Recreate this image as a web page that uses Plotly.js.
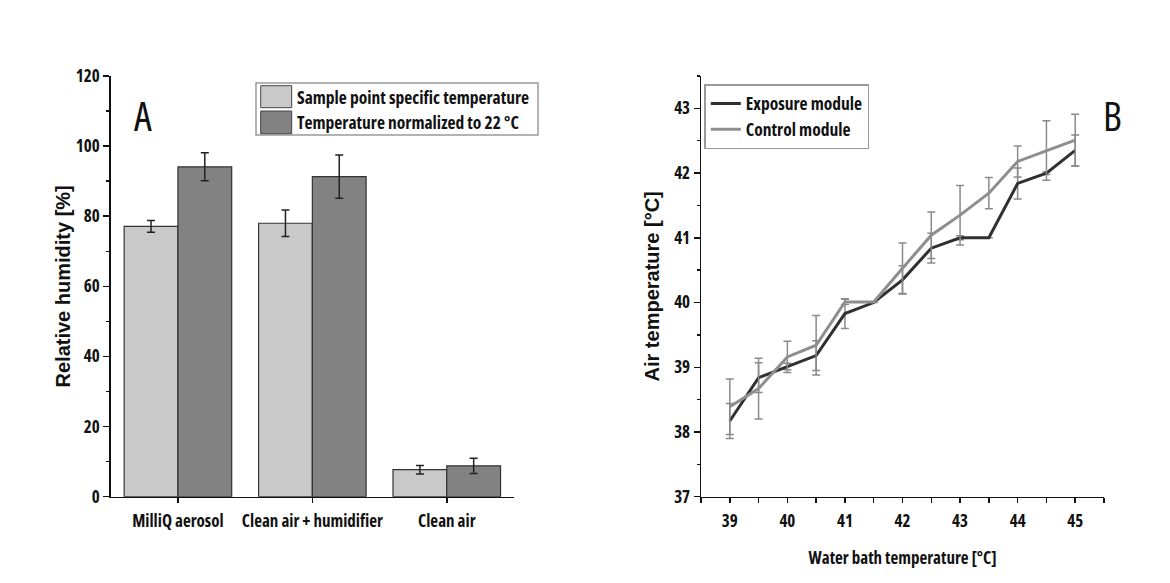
<!DOCTYPE html>
<html>
<head>
<meta charset="utf-8">
<script src="https://cdn.plot.ly/plotly-3.0.1.min.js"></script>
<style>
html,body{margin:0;padding:0;background:#fff;}
#chart{width:1170px;height:583px;}
text{font-stretch:condensed;}
text[style*="Liberation"]{font-stretch:normal !important;}
</style>
</head>
<body>
<div id="chart"></div>
<script>
// ---- Panel A data ----
const categories = ['MilliQ aerosol', 'Clean air + humidifier', 'Clean air'];
const seriesA = ['Sample point specific temperature', 'Temperature normalized to 22 °C'];
const sampleRH = [77.1, 78.0, 7.7];
const sampleErr = [1.7, 3.8, 1.2];
const normRH = [94.1, 91.3, 8.8];
const normErr = [4.0, 6.2, 2.2];
const yTicksA = [0, 20, 40, 60, 80, 100, 120];

// ---- Panel B data ----
const seriesB = ['Exposure module', 'Control module'];
const waterTemp = [39, 39.5, 40, 40.5, 41, 41.5, 42, 42.5, 43, 43.5, 44, 44.5, 45];
const exposureT = [38.17, 38.84, 39.01, 39.18, 39.83, 40.0, 40.35, 40.84, 41.0, 41.0, 41.84, 42.0, 42.35];
const exposureErr = [0.27, 0.23, 0.05, 0.23, 0.23, 0, 0.22, 0.23, 0.03, 0, 0.24, 0.02, 0.24];
const controlT = [38.39, 38.67, 39.16, 39.34, 40.01, 40.01, 40.53, 41.04, 41.35, 41.69, 42.18, 42.35, 42.51];
const controlErr = [0.43, 0.47, 0.24, 0.46, 0.04, 0, 0.39, 0.36, 0.46, 0.24, 0.24, 0.46, 0.40];
const xTicksB = [39, 40, 41, 42, 43, 44, 45];
const yTicksB = [37, 38, 39, 40, 41, 42, 43];

const W = 1170, H = 583;
const px = v => v / W;
const py = v => 1 - v / H;

const narrow = "'Open Sans', sans-serif";
const wide = "'Liberation Sans', Arial, sans-serif";
const tickFont = {family: narrow, size: 17, color: '#111', weight: 'bold'};
const legendFont = {family: narrow, size: 17.5, color: '#111', weight: 'bold'};
const titleFont = {family: wide, size: 20, color: '#111', weight: 'bold'};

const lightGray = '#c9c9c9', darkGray = '#828282';
const barLine = {color: '#333', width: 1.2};

const traces = [
  {type: 'bar', x: categories, y: sampleRH, name: seriesA[0], xaxis: 'x', yaxis: 'y',
   marker: {color: lightGray, line: barLine}, showlegend: false,
   error_y: {type: 'data', array: sampleErr, visible: true, color: '#222', thickness: 1.5, width: 4}},
  {type: 'bar', x: categories, y: normRH, name: seriesA[1], xaxis: 'x', yaxis: 'y',
   marker: {color: darkGray, line: barLine}, showlegend: false,
   error_y: {type: 'data', array: normErr, visible: true, color: '#222', thickness: 1.5, width: 4}},
  {type: 'scatter', mode: 'lines', x: waterTemp, y: exposureT, name: seriesB[0], xaxis: 'x2', yaxis: 'y2',
   line: {color: '#303030', width: 3},
   error_y: {type: 'data', array: exposureErr, visible: true, color: '#8a8a8a', thickness: 1.5, width: 4}},
  {type: 'scatter', mode: 'lines', x: waterTemp, y: controlT, name: seriesB[1], xaxis: 'x2', yaxis: 'y2',
   line: {color: '#8e8e8e', width: 3},
   error_y: {type: 'data', array: controlErr, visible: true, color: '#8a8a8a', thickness: 1.5, width: 4}}
];

const axisBase = {showline: true, linecolor: '#111', linewidth: 1.5, ticks: 'outside', tickcolor: '#111',
  tickwidth: 1.5, showgrid: false, zeroline: false, tickfont: tickFont};

const domYA = [py(496.7), py(76)];
const layout = {
  width: W, height: H,
  margin: {l: 0, r: 0, t: 0, b: 0},
  paper_bgcolor: '#fff', plot_bgcolor: 'rgba(0,0,0,0)',
  barmode: 'group', bargap: 0.2, bargroupgap: 0,
  xaxis: Object.assign({}, axisBase, {domain: [px(110.7), px(514)], type: 'category',
    categoryorder: 'array', categoryarray: categories, range: [-0.5, 2.5], ticklen: 5, tickangle: 0,
    ticklabelstandoff: 3, anchor: 'y'}),
  xaxis3: {domain: [px(110.7), px(514)], type: 'category', categoryorder: 'array', categoryarray: categories,
    range: [-0.5, 2.5], overlaying: 'x', anchor: 'y', tickson: 'boundaries', ticks: 'outside',
    ticklen: 5, tickwidth: 1.5, tickcolor: '#111', showticklabels: false, showline: false, showgrid: false},
  yaxis: Object.assign({}, axisBase, {domain: domYA, range: [0, 120], tickmode: 'array', tickvals: yTicksA,
    ticklen: 6, anchor: 'x',
    minor: {ticks: 'outside', ticklen: 3, dtick: 10, tickcolor: '#111', tickwidth: 1.5},
    title: {text: 'Relative humidity [%]', font: titleFont, standoff: 0}}),
  xaxis2: Object.assign({}, axisBase, {domain: [px(701), px(1104)], range: [38.5, 45.5], tickmode: 'array',
    tickvals: xTicksB, ticklen: 5, anchor: 'y2', ticklabelstandoff: 3,
    minor: {ticks: 'outside', ticklen: 5, dtick: 0.5, tick0: 39, tickcolor: '#111', tickwidth: 1.5},
    title: {text: 'Water bath temperature [°C]', font: tickFont, standoff: 21}}),
  yaxis2: Object.assign({}, axisBase, {domain: domYA, range: [37, 43.5], tickmode: 'array', tickvals: yTicksB,
    ticklen: 6, anchor: 'x2',
    minor: {ticks: 'outside', ticklen: 3, dtick: 0.5, tick0: 37, tickcolor: '#111', tickwidth: 1.5},
    title: {text: 'Air temperature [°C]', font: titleFont, standoff: 9}}),
  showlegend: true,
  legend: {x: px(704.3), y: py(84), xanchor: 'left', yanchor: 'top', bgcolor: '#fff',
    bordercolor: '#9a9a9a', borderwidth: 1.5, font: legendFont,
    itemwidth: 30, tracegroupgap: 0},
  shapes: [
    {type: 'rect', xref: 'paper', yref: 'paper', x0: px(256), x1: px(538), y0: py(135), y1: py(83),
     line: {color: '#9a9a9a', width: 1.5}, fillcolor: '#fff', layer: 'above'},
    {type: 'rect', xref: 'paper', yref: 'paper', x0: px(260.7), x1: px(291.7), y0: py(107.7), y1: py(85.7),
     line: {color: '#444', width: 1}, fillcolor: lightGray, layer: 'above'},
    {type: 'rect', xref: 'paper', yref: 'paper', x0: px(260.7), x1: px(291.7), y0: py(133.7), y1: py(111),
     line: {color: '#444', width: 1}, fillcolor: darkGray, layer: 'above'}
  ],
  annotations: [
    {xref: 'paper', yref: 'paper', x: px(295), y: py(97), xanchor: 'left', yanchor: 'middle', showarrow: false,
     text: seriesA[0], font: legendFont},
    {xref: 'paper', yref: 'paper', x: px(295), y: py(122), xanchor: 'left', yanchor: 'middle', showarrow: false,
     text: seriesA[1], font: legendFont},
    {xref: 'paper', yref: 'paper', x: px(143), y: py(115), xanchor: 'center', yanchor: 'middle', showarrow: false,
     text: 'A', font: {family: narrow, size: 40, color: '#111'}},
    {xref: 'paper', yref: 'paper', x: px(1112), y: py(115), xanchor: 'center', yanchor: 'middle', showarrow: false,
     text: 'B', font: {family: narrow, size: 40, color: '#111'}}
  ]
};

Plotly.newPlot('chart', traces, layout, {displayModeBar: false, staticPlot: true});
</script>
</body>
</html>
